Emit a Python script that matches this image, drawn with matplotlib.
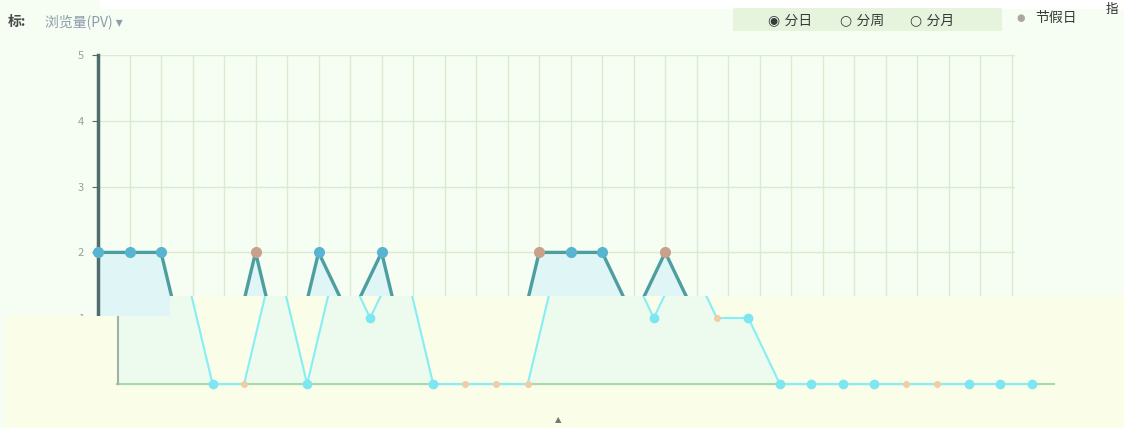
import matplotlib
matplotlib.use("Agg")
import matplotlib.pyplot as plt
from matplotlib.patches import Rectangle, Polygon
import numpy as np

plt.rcParams['font.family'] = ['Noto Sans CJK SC', 'DejaVu Sans']

# ---- data ----
days = list(range(30))
pv = [2, 2, 2, 0, 0, 2, 0, 2, 1, 2, 0, 0, 0, 0, 2, 2, 2, 1, 2, 1, 1, 0, 0, 0, 0, 0, 0, 0, 0, 0]
holiday = [4, 5, 11, 12, 13, 14, 18, 19, 25, 26]
y_ticks = [1, 2, 3, 4, 5]
y_tick_labels = ['1', '2', '3', '4', '5']

W, H = 1124, 428
fig = plt.figure(figsize=(W / 100, H / 100), dpi=100)
fig.patch.set_facecolor('#f6fdf2')

def fx(px):
    return px / W

def fy(py):
    return 1 - py / H

x = np.array(days)
y = np.array(pv)
is_h = np.array([d in holiday for d in days])

# ---- upper (main) chart ----
ax = fig.add_axes([fx(98), fy(384), fx(1015 - 98), (384 - 55) / H], zorder=0)
ax.set_facecolor('#f6fdf2')
ax.set_xlim(0, 29.1)
ax.set_ylim(0, 5)
for s in ['top', 'right', 'bottom']:
    ax.spines[s].set_visible(False)
ax.spines['left'].set_color('#506c6c')
ax.spines['left'].set_linewidth(2.5)
ax.set_yticks(y_ticks)
ax.set_yticklabels(y_tick_labels, color='#9aa39a', fontsize=8)
ax.tick_params(axis='y', length=4, color='#506c6c', pad=6)
ax.set_xticks(days)
ax.tick_params(axis='x', length=0, labelbottom=False)
ax.grid(True, color='#d8edd0', linewidth=1)
ax.set_axisbelow(True)
ax.fill_between(x, y, 0, color='#e0f6f6', zorder=1)
ax.plot(x, y, color='#4e9ea0', linewidth=2.4, zorder=2)
ax.plot(x[~is_h], y[~is_h], 'o', color='#58b4d0', markersize=7, zorder=3, clip_on=False)
ax.plot(x[is_h], y[is_h], 'o', color='#c9a08c', markersize=7, zorder=3, clip_on=False)

# ---- yellow band (glitched lower region) ----
band_pts = [[fx(0), fy(428)], [fx(1124), fy(428)], [fx(1124), fy(296)],
            [fx(170), fy(296)], [fx(170), fy(316)], [fx(5), fy(316)], [fx(5), fy(428)]]
band = Polygon(band_pts, closed=True, transform=fig.transFigure, facecolor='#fafde8',
               edgecolor='none', zorder=1)
fig.add_artist(band)
clip_poly = Polygon(band_pts, closed=True, transform=fig.transFigure,
                    facecolor='none', edgecolor='none')

# ---- lower (shifted, faded) chart ----
unit = 66.0
step = (1012 - 98) / 29.0
x0px = 118
ax2 = fig.add_axes([0, fy(428), 1, (428 - 296) / H], zorder=2)
ax2.patch.set_alpha(0)
ax2.set_xlim(-x0px / step, (W - x0px) / step)
ax2.set_ylim((384 - 428) / unit, (384 - 296) / unit)
ax2.axis('off')
arts = []
arts.append(ax2.fill_between(x, y, 0, color='#eafbf0', alpha=0.85, zorder=1))
arts += ax2.plot([-0.02, 29.7], [0, 0], color='#a9d9a6', linewidth=1.5, zorder=2)
arts += ax2.plot([0, 0], [0, 1.03], color='#9ab4a8', linewidth=1.5, zorder=2)
arts += ax2.plot(x, y, color='#86eef4', linewidth=1.5, zorder=3)
arts += ax2.plot(x[~is_h], y[~is_h], 'o', color='#7ee6f2', markersize=6, zorder=4)
arts += ax2.plot(x[is_h], y[is_h], 'o', color='#f2cca4', markersize=4, zorder=4)
for a in arts:
    a.set_clip_path(clip_poly)
ax2.text(558 / step - x0px / step, (384 - 420) / unit, '▲', color='#707a70',
         fontsize=6, ha='center', va='center', family=['DejaVu Sans'])

# ---- header ----
fig.add_artist(Rectangle((fx(100), fy(9)), fx(1024), 9 / H, transform=fig.transFigure,
                         facecolor='#ffffff', edgecolor='none', zorder=3))
fig.add_artist(Rectangle((fx(733), fy(31)), fx(1002 - 733), 23 / H, transform=fig.transFigure,
                         facecolor='#e6f4de', edgecolor='none', zorder=3))
fig.text(fx(8), fy(22), '标:', fontsize=10, color='#4a4a4a', fontweight='bold',
         va='center', zorder=4)
fig.text(fx(45), fy(22), '浏览量(PV) ▾', fontsize=10, color='#8d9cab',
         va='center', zorder=4, family=['Noto Sans CJK SC', 'DejaVu Sans'])
fig.text(fx(768), fy(20), '◉ 分日', fontsize=10, color='#3a3a3a', va='center', zorder=4,
         family=['DejaVu Sans', 'Noto Sans CJK SC'])
fig.text(fx(840), fy(20), '○ 分周', fontsize=10, color='#3a3a3a', va='center', zorder=4,
         family=['DejaVu Sans', 'Noto Sans CJK SC'])
fig.text(fx(910), fy(20), '○ 分月', fontsize=10, color='#3a3a3a', va='center', zorder=4,
         family=['DejaVu Sans', 'Noto Sans CJK SC'])
fig.text(fx(1016), fy(18), '●', fontsize=7, color='#a8a8a0', va='center', zorder=4,
         family=['DejaVu Sans'])
fig.text(fx(1035), fy(18), '节假日', fontsize=10, color='#3a3a3a', va='center', zorder=4)
fig.text(fx(1106), fy(9), '指', fontsize=9, color='#2a2a2a', va='center', zorder=4)

fig.savefig('out.png', dpi=100, facecolor=fig.get_facecolor())
